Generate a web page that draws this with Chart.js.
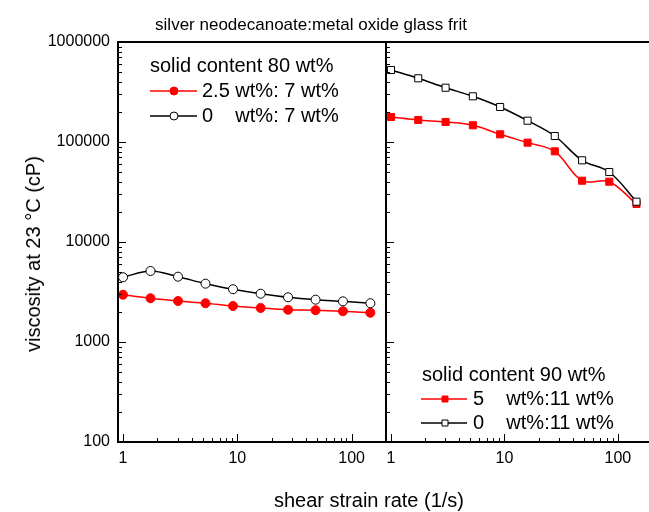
<!DOCTYPE html>
<html><head><meta charset="utf-8">
<script src="https://cdn.jsdelivr.net/npm/chart.js@4.4.0/dist/chart.umd.min.js"></script>
<style>
html,body{margin:0;padding:0;background:#fff;overflow:hidden;width:649px;height:512px;}
#wrap{position:relative;width:649px;height:512px;overflow:hidden;font-family:"Liberation Sans",Arial,sans-serif;color:#000;}
canvas{position:absolute;top:0;}
#c1{left:0;}
#c2{left:376px;}
.t{position:absolute;white-space:nowrap;line-height:1;}
#title{left:311px;top:16px;font-size:17px;transform:translateX(-50%);}
#xtitle{left:369px;top:490px;font-size:20px;transform:translateX(-50%);}
#ytitle{left:33px;top:254px;font-size:20px;transform:translate(-50%,-50%) rotate(-90deg);}
</style></head><body>
<div id="wrap">
<canvas id="c1" width="386" height="512"></canvas>
<canvas id="c2" width="276" height="512"></canvas>
<div class="t" id="title">silver neodecanoate:metal oxide glass frit</div>
<div class="t" id="xtitle">shear strain rate (1/s)</div>
<div class="t" id="ytitle">viscosity at 23 °C (cP)</div>
</div>
<script>
// ---- data ----
const shearRate = [1, 1.74, 3.03, 5.27, 9.17, 16.0, 27.8, 48.4, 84.0, 146];
const visc80Ag   = [2970, 2740, 2570, 2440, 2290, 2190, 2100, 2080, 2030, 1960];
const visc80NoAg = [4440, 5130, 4500, 3830, 3370, 3040, 2800, 2650, 2550, 2440];
const visc90Ag   = [177800, 166000, 158500, 146900, 119400, 98500, 80700, 41000, 40100, 24000];
const visc90NoAg = [524800, 433500, 349000, 286400, 223900, 163300, 114800, 65600, 50100, 25300];
const yTickValues = [100, 1000, 10000, 100000, 1000000];
const xTickValues = [1, 10, 100];
const header80 = "solid content 80 wt%";
const labels80 = ["2.5 wt%: 7 wt%", "0    wt%: 7 wt%"];
const header90 = "solid content 90 wt%";
const labels90 = ["5    wt%:11 wt%", "0    wt%:11 wt%"];

const FONT = '"Liberation Sans", Arial, sans-serif';
const pts = (xs, ys) => xs.map((x, i) => ({x: x, y: ys[i]}));

const framePlugin = {
  id: 'frame',
  afterDatasetsDraw(chart, args, o) {
    const ctx = chart.ctx, a = chart.chartArea, x = chart.scales.x, y = chart.scales.y;
    ctx.save();
    ctx.strokeStyle = '#000';
    ctx.lineWidth = 1;
    ctx.beginPath();
    for (let d = 100; d < 1e6; d *= 10) {
      for (let m = 1; m <= 9; m++) {
        const py = Math.round(y.getPixelForValue(d * m)) + 0.5;
        const len = m === 1 ? 8 : 4;
        ctx.moveTo(a.left, py); ctx.lineTo(a.left + len, py);
      }
    }
    for (let d = 0.1; d < 1000; d *= 10) {
      for (let m = 1; m <= 9; m++) {
        const v = d * m;
        if (v < x.min || v > x.max) continue;
        const px = Math.round(x.getPixelForValue(v)) + 0.5;
        const len = m === 1 ? 8 : 4;
        ctx.moveTo(px, a.bottom); ctx.lineTo(px, a.bottom - len);
      }
    }
    ctx.stroke();
    ctx.lineWidth = 2;
    ctx.beginPath();
    ctx.moveTo(a.left, a.top); ctx.lineTo(a.right + 1, a.top);
    ctx.moveTo(a.left, a.bottom); ctx.lineTo(a.right + 1, a.bottom);
    ctx.moveTo(a.left, a.top - 1); ctx.lineTo(a.left, a.bottom + 1);
    if (o.right) { ctx.moveTo(a.right, a.top - 1); ctx.lineTo(a.right, a.bottom + 1); }
    ctx.stroke();
    ctx.restore();
  }
};

const legendPlugin = {
  id: 'legendBox',
  afterDraw(chart, args, o) {
    const ctx = chart.ctx;
    ctx.save();
    ctx.font = '20px ' + FONT;
    ctx.fillStyle = '#000';
    ctx.textBaseline = 'middle';
    ctx.fillText(o.header, o.x, o.y);
    o.rows.forEach((r, i) => {
      const ds = chart.data.datasets[r];
      const yy = o.y + o.gap * (i + 1);
      ctx.strokeStyle = ds.borderColor;
      ctx.lineWidth = 1.5;
      ctx.beginPath(); ctx.moveTo(o.x0, yy); ctx.lineTo(o.x1, yy); ctx.stroke();
      ctx.fillStyle = ds.pointBackgroundColor;
      ctx.strokeStyle = ds.pointBorderColor;
      ctx.lineWidth = 1;
      ctx.beginPath();
      if (ds.pointStyle === 'circle') ctx.arc(o.mx, yy, 4, 0, Math.PI * 2);
      else ctx.rect(o.mx - 3, yy - 3, 6, 6);
      ctx.fill(); ctx.stroke();
      ctx.fillStyle = '#000';
      ctx.fillText(ds.label, o.tx, yy);
    });
    ctx.restore();
  }
};

function makeScales(showY) {
  return {
    x: {
      type: 'logarithmic', min: 0.904, max: 200,
      afterBuildTicks: s => { s.ticks = xTickValues.map(v => ({value: v})); },
      afterFit: s => { s.height = 70; },
      ticks: {font: {size: 16, family: FONT}, color: '#000', padding: 7, maxRotation: 0, autoSkip: false,
              callback: v => String(v)},
      grid: {display: false, drawTicks: false, tickLength: 0}, border: {display: false}
    },
    y: {
      display: showY,
      type: 'logarithmic', min: 100, max: 1000000,
      afterBuildTicks: s => { s.ticks = yTickValues.map(v => ({value: v})); },
      afterFit: s => { s.width = showY ? 118 : 0; },
      ticks: {font: {size: 16, family: FONT}, color: '#000', padding: 8, autoSkip: false,
              callback: v => String(v)},
      grid: {display: false, drawTicks: false, tickLength: 0}, border: {display: false}
    }
  };
}

function ds(label, data, color, fill, style, order) {
  return {label: label, data: data, borderColor: color, backgroundColor: fill,
    pointBackgroundColor: fill, pointBorderColor: color, pointStyle: style,
    pointRadius: style === 'circle' ? 4.5 : 5, pointBorderWidth: 1, borderWidth: 1.5,
    tension: 0.35, order: order, clip: false};
}

new Chart(document.getElementById('c1'), {
  type: 'line',
  data: {datasets: [
    ds(labels80[0], pts(shearRate, visc80Ag), '#ff0000', '#ff0000', 'circle', 1),
    ds(labels80[1], pts(shearRate, visc80NoAg), '#000000', '#ffffff', 'circle', 0)
  ]},
  options: {
    responsive: false, animation: false, devicePixelRatio: 1,
    layout: {autoPadding: false, padding: {top: 42, left: 0, right: 0, bottom: 0}},
    plugins: {legend: {display: false}, tooltip: {enabled: false},
      frame: {right: true},
      legendBox: {header: header80, rows: [0, 1], x: 150, y: 66, gap: 25, x0: 150, x1: 197, mx: 174, tx: 202}},
    scales: makeScales(true)
  },
  plugins: [framePlugin, legendPlugin]
});

new Chart(document.getElementById('c2'), {
  type: 'line',
  data: {datasets: [
    ds(labels90[0], pts(shearRate, visc90Ag), '#ff0000', '#ff0000', 'rect', 1),
    ds(labels90[1], pts(shearRate, visc90NoAg), '#000000', '#ffffff', 'rect', 0)
  ]},
  options: {
    responsive: false, animation: false, devicePixelRatio: 1,
    layout: {autoPadding: false, padding: {top: 42, left: 10, right: 0, bottom: 0}},
    plugins: {legend: {display: false}, tooltip: {enabled: false},
      frame: {right: false},
      legendBox: {header: header90, rows: [0, 1], x: 46, y: 375, gap: 24, x0: 45, x1: 91, mx: 69, tx: 97}},
    scales: makeScales(false)
  },
  plugins: [framePlugin, legendPlugin]
});
</script>
</body></html>
